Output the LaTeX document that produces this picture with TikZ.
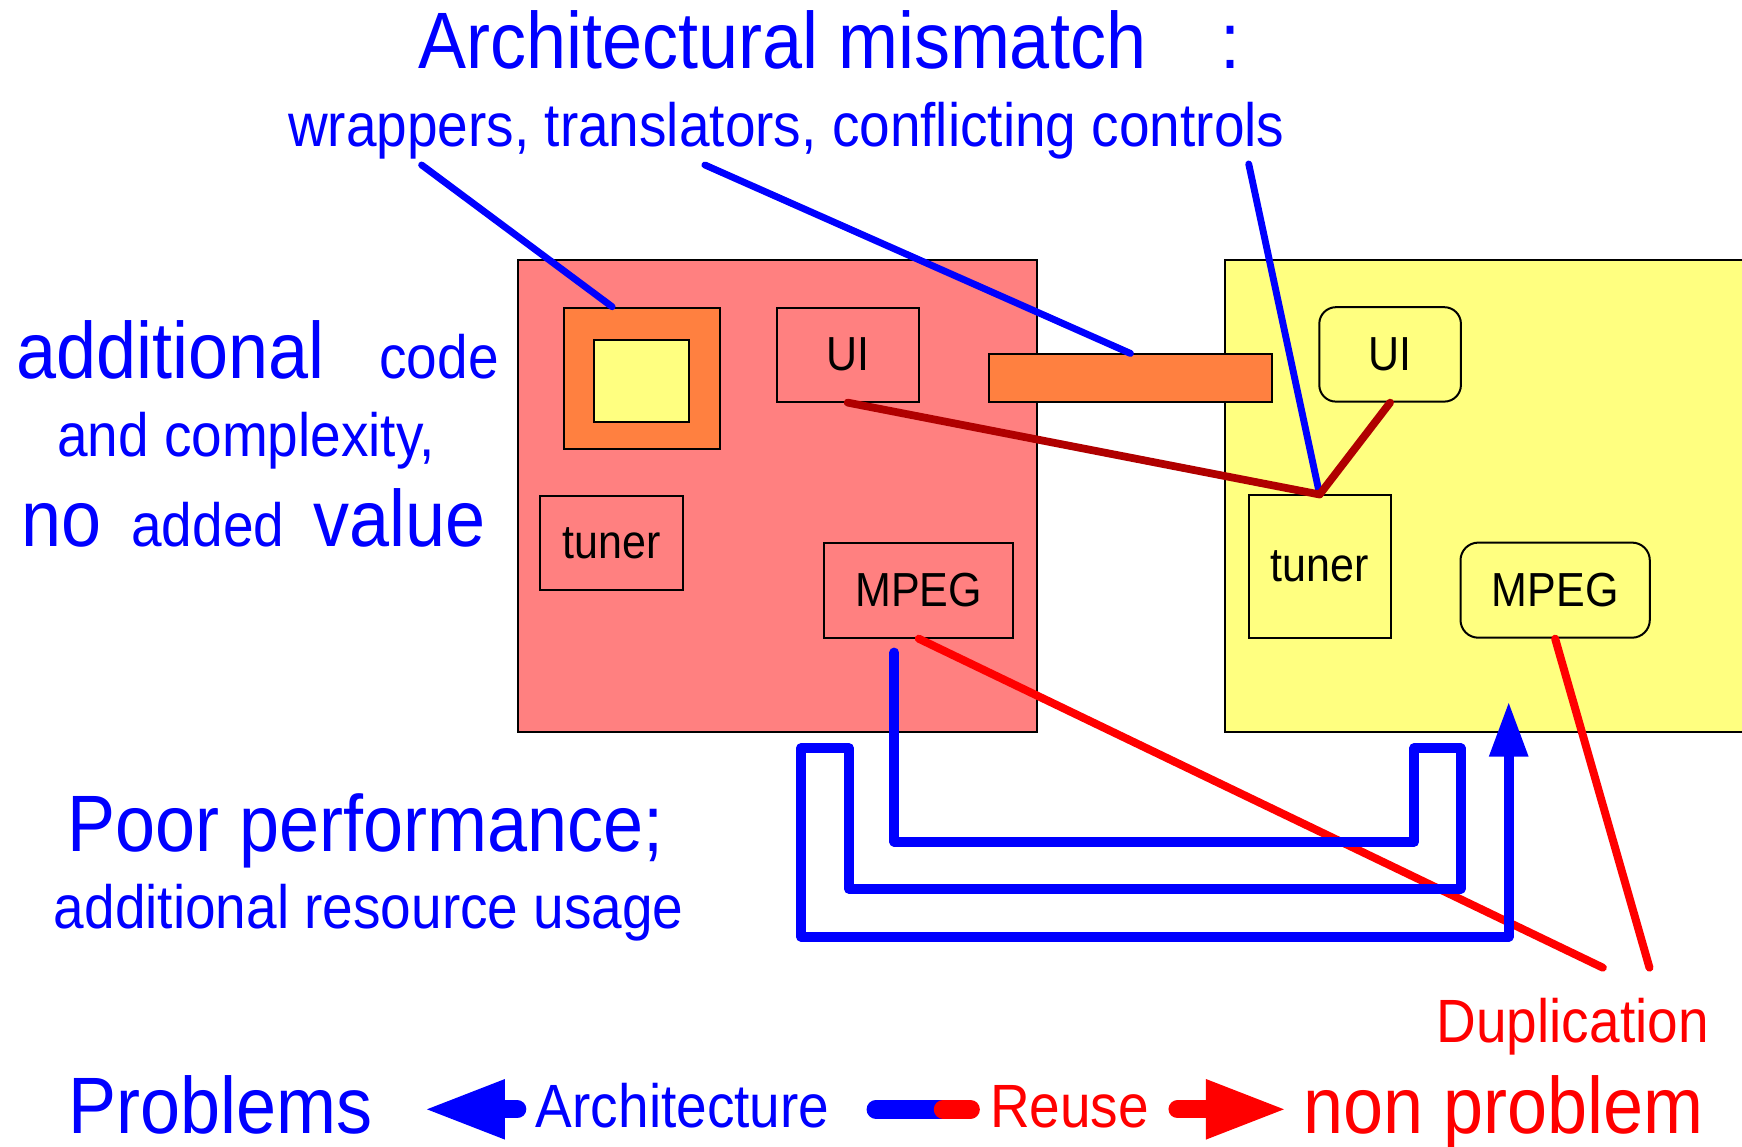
\documentclass[tikz,border=0pt]{standalone}
\usepackage{fontspec}
\setmainfont{Liberation Sans}[FakeStretch=0.9]
\usetikzlibrary{arrows.meta}
\definecolor{pblue}{RGB}{0,0,255}
\definecolor{pred}{RGB}{255,0,0}
\definecolor{dred}{RGB}{176,0,0}
\definecolor{salmon}{RGB}{255,128,128}
\definecolor{lyellow}{RGB}{255,255,128}
\definecolor{orng}{RGB}{255,128,64}
\tikzset{
  box/.style={draw=black, line width=0.9pt, inner sep=0pt, font=\fontsize{21.5}{24}\selectfont},
  rbox/.style={box, rounded corners=7.5pt},
  big/.style={font=\fontsize{36}{40}\selectfont, inner sep=0pt, anchor=base},
  small/.style={font=\fontsize{27.5}{30}\selectfont, inner sep=0pt, anchor=base},
  callout/.style={draw=pblue, line width=3.1pt, line cap=round},
  reuse/.style={draw=dred, line width=3.5pt, line cap=round},
  dup/.style={draw=pred, line width=3.6pt, line cap=round},
  flow/.style={draw=pblue, line width=4.5pt, line cap=round, line join=round},
  legendline/.style={line width=8.5pt, line cap=round},
}
\begin{document}
\begin{tikzpicture}[x=0.5pt,y=-0.5pt]
\clip (0,0) rectangle (1568,1032);
\fill[white] (0,0) rectangle (1568,1032);

% systems
\node[box, fill=salmon, minimum width=233.5pt, minimum height=212.5pt] (sysA) at (699.5,446.5) {};
\node[box, fill=lyellow, minimum width=248.5pt, minimum height=212.5pt] (sysB) at (1351.5,446.5) {};

% components of system A
\node[box, fill=orng, minimum width=70pt, minimum height=63.5pt] (wrapper) at (578,340.5) {};
\node[box, fill=lyellow, minimum width=42.5pt, minimum height=36.75pt] (wrapped) at (577.5,342.75) {};
\node[box, fill=salmon, minimum width=64pt, minimum height=42.25pt] (uiA) at (763,319.25) {UI};
\node[box, fill=salmon, minimum width=64.5pt, minimum height=42.25pt] (tunerA) at (550.5,488.75) {tuner};
\node[box, fill=salmon, minimum width=85pt, minimum height=42.75pt] (mpegA) at (827,531.25) {MPEG};

% translator
\node[box, fill=orng, minimum width=127.5pt, minimum height=21.25pt] (bar) at (1017.5,340.25) {};

% components of system B
\node[rbox, fill=lyellow, minimum width=63.75pt, minimum height=42.5pt] (uiB) at (1251.25,319) {UI};
\node[box, fill=lyellow, minimum width=63.8pt, minimum height=64pt] (tunerB) at (1187.8,510) {tuner};
\node[rbox, fill=lyellow, rounded corners=8pt, minimum width=85.2pt, minimum height=42.8pt] (mpegB) at (1399.8,531.2) {MPEG};

% texts
\node[big, text=pblue] (title) at (704,62) {Architectural mismatch};
\node[big, text=pblue] (colon) at (1108,62) {:};
\node[small, text=pblue] (sub) at (707.75,132) {wrappers, translators, conflicting controls};

\node[big, text=pblue] (addA) at (153.75,341) {additional};
\node[small, text=pblue] (code) at (395.25,341) {code};
\node[small, text=pblue] (cplx) at (221.5,411) {and complexity,};
\node[big, text=pblue] (no) at (55,492) {no};
\node[small, text=pblue] (added) at (187,492) {added};
\node[big, text=pblue] (value) at (360,492) {value};

\node[big, text=pblue] (poor) at (329.25,766) {Poor performance;};
\node[small, text=pblue] (res) at (332,835.5) {additional resource usage};

\node[small, text=pred] (dupl) at (1415.6,938) {Duplication};

\node[big, text=pblue] (problems) at (198.75,1020) {Problems};
\node[small, text=pblue] (arch) at (614.5,1014.6) {Architecture};
\node[small, text=pred] (reusetxt) at (962.7,1014.6) {Reuse};
\node[big, text=pred] (nonprob) at (1353.5,1020) {non problem};

% callouts
\coordinate (c1) at (379.5,148.5);
\coordinate (c2) at (634.5,148.5);
\coordinate (c3) at (1124,147.6);
\draw[callout] (c1) -- ([xshift=-13.5pt]wrapper.north);
\draw[callout] (c2) -- (bar.north);
\draw[callout] (c3) -- (tunerB.north);

% reuse links
\draw[reuse] (uiA.south) -- (tunerB.north);
\draw[reuse] (uiB.south) -- (tunerB.north);

% duplication links
\coordinate (d1) at (1442.7,871);
\coordinate (d2) at (1484.7,871);
\draw[dup] (mpegA.south) -- (d1);
\draw[dup] (mpegB.south) -- (d2);

% performance flow
\coordinate (fin) at (1358,631.5);
\draw[flow, -{Triangle[length=24.75pt,width=16.5pt]}]
  ([xshift=-11pt,yshift=-6.25pt]mpegA.south) |- (1273,757.5) -- (1273,673.5)
  -| (1314.6,800) -| (764,673.5) -| (721,843) -| (fin);

% legend
\coordinate (la) at (465.5,998.5);
\coordinate (lat) at (381,998.5);
\draw[legendline, draw=pblue, line width=8.25pt, -{Triangle[length=36.75pt,width=24.5pt]}] (la) -- (lat);
\coordinate (p1) at (788.5,998.5);
\coordinate (p2) at (850,998.5);
\coordinate (p3) at (849,998.5);
\coordinate (p4) at (873.5,998.5);
\draw[legendline, draw=pblue] (p1) -- (p2);
\draw[legendline, draw=pred] (p3) -- (p4);
\coordinate (ra) at (1060,998.5);
\coordinate (rat) at (1159,998.5);
\draw[legendline, draw=pred, line width=8.25pt, -{Triangle[length=36.75pt,width=24.5pt]}] (ra) -- (rat);
\end{tikzpicture}
\end{document}
